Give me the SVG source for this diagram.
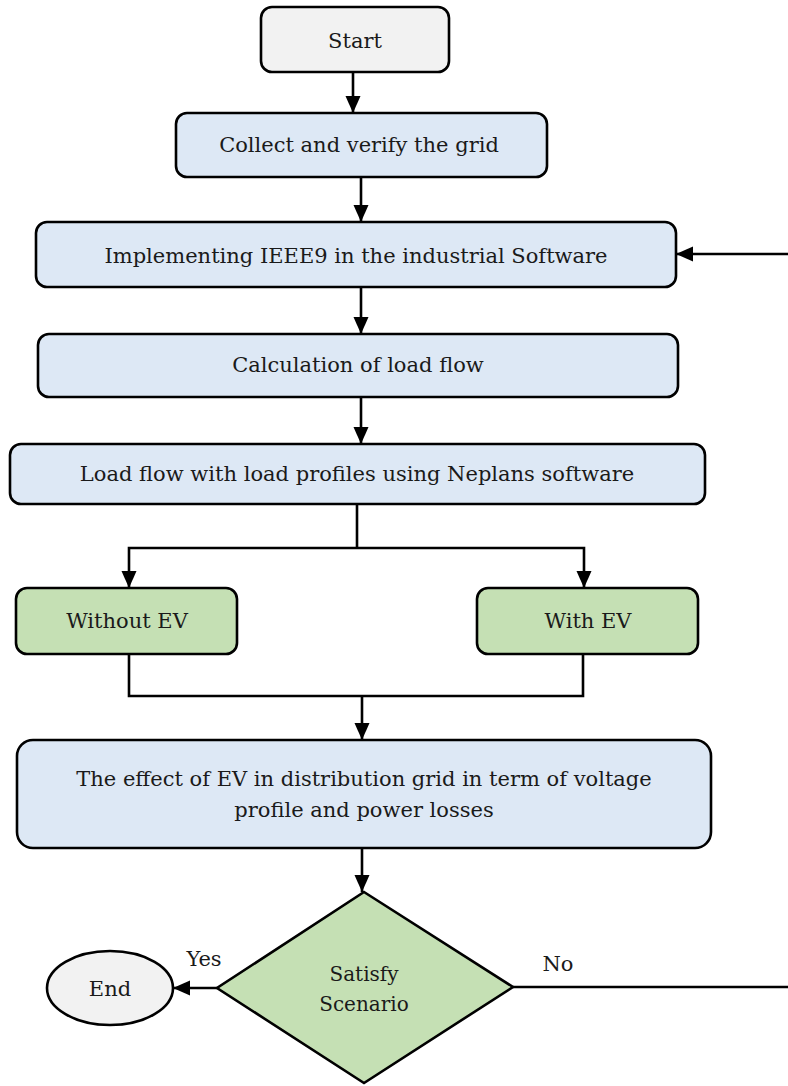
<svg xmlns="http://www.w3.org/2000/svg" width="788" height="1086" viewBox="0 0 788 1086">
<style>
.box{stroke:#000;stroke-width:2.6}
.blue{fill:#dde8f5}
.green{fill:#c5e0b4}
.grey{fill:#f2f2f2}
.c{fill:none;stroke:#000;stroke-width:2.6}
</style>
<defs>
<marker id="ah" markerUnits="userSpaceOnUse" markerWidth="17" markerHeight="17" viewBox="0 0 17 17" refX="17" refY="8.5" orient="auto">
<path d="M0,1 L17,8.5 L0,16 Z" fill="#000"/>
</marker>
</defs>
<g font-family="'DejaVu Serif', 'Liberation Serif', serif" font-size="21" fill="#1a1a1a" text-anchor="middle">
<g id="connectors">
<path class="c" d="M353,72 V113" marker-end="url(#ah)"/>
<path class="c" d="M361,177 V222" marker-end="url(#ah)"/>
<path class="c" d="M788,254 H676" marker-end="url(#ah)"/>
<path class="c" d="M361,287 V334" marker-end="url(#ah)"/>
<path class="c" d="M361,397 V444" marker-end="url(#ah)"/>
<path class="c" d="M357,504 V548"/>
<path class="c" d="M357,548 H129 V588" marker-end="url(#ah)"/>
<path class="c" d="M357,548 H584 V588" marker-end="url(#ah)"/>
<path class="c" d="M129,654 V696 H583 V654"/>
<path class="c" d="M362,696 V740" marker-end="url(#ah)"/>
<path class="c" d="M362,848 V892" marker-end="url(#ah)"/>
<path class="c" d="M217,988 H173" marker-end="url(#ah)"/>
<path class="c" d="M513,987 H788"/>
<text x="204" y="966">Yes</text>
<text x="558" y="971">No</text>
</g>
<g id="start">
<rect class="box grey" x="261" y="7" width="188" height="65" rx="11"/>
<text x="355" y="48">Start</text>
</g>
<g id="collect">
<rect class="box blue" x="176" y="113" width="371" height="64" rx="11"/>
<text x="359" y="152">Collect and verify the grid</text>
</g>
<g id="implement">
<rect class="box blue" x="36" y="222" width="640" height="65" rx="11"/>
<text x="356" y="263">Implementing IEEE9 in the industrial Software</text>
</g>
<g id="calc">
<rect class="box blue" x="38" y="334" width="640" height="63" rx="11"/>
<text x="358" y="372">Calculation of load flow</text>
</g>
<g id="loadflow">
<rect class="box blue" x="10" y="444" width="695" height="60" rx="11"/>
<text x="357" y="481">Load flow with load profiles using Neplans software</text>
</g>
<g id="without">
<rect class="box green" x="16" y="588" width="221" height="66" rx="11"/>
<text x="127" y="628">Without EV</text>
</g>
<g id="with">
<rect class="box green" x="477" y="588" width="221" height="66" rx="11"/>
<text x="588" y="628">With EV</text>
</g>
<g id="effect">
<rect class="box blue" x="17" y="740" width="694" height="108" rx="16"/>
<text x="364" y="786">The effect of EV in distribution grid in term of voltage</text>
<text x="364" y="817">profile and power losses</text>
</g>
<g id="decision">
<path class="box green" d="M364,892 L513,987 L364,1083 L217,988 Z"/>
<text x="364" y="981" font-size="20">Satisfy</text>
<text x="364" y="1011" font-size="20">Scenario</text>
</g>
<g id="end">
<ellipse class="box grey" cx="110" cy="988" rx="63" ry="37"/>
<text x="110" y="996">End</text>
</g>
</g>
</svg>
